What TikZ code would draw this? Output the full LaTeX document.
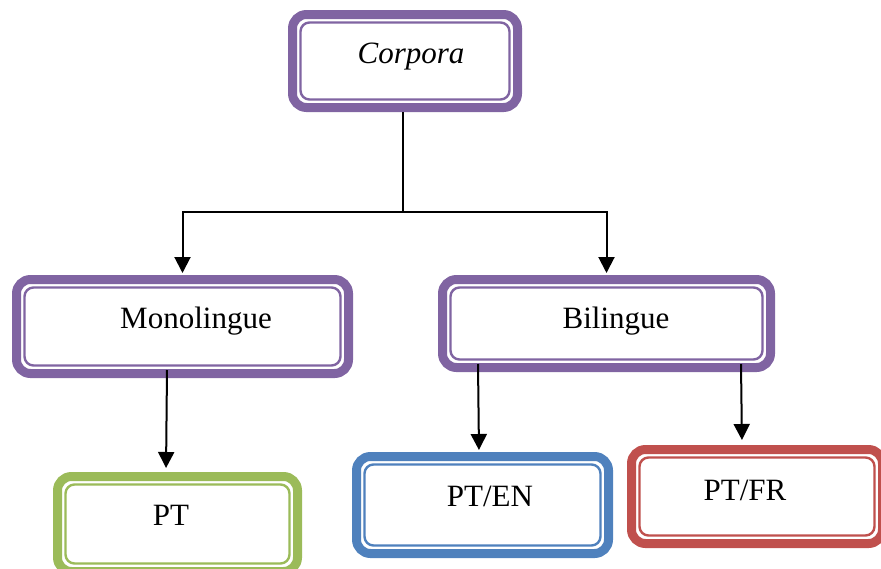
\documentclass[tikz,border=0pt]{standalone}
\usepackage{fontspec}
\setmainfont{Liberation Serif}
\usetikzlibrary{arrows.meta}
\definecolor{cpurple}{HTML}{8064A2}
\definecolor{cgreen}{HTML}{9BBB59}
\definecolor{cblue}{HTML}{4F81BD}
\definecolor{cred}{HTML}{C0504D}
\tikzset{
  boxo/.style={draw=#1, line width=9pt, rounded corners=14pt, inner sep=0pt, fill=white},
  boxi/.style={draw=#1, line width=2.4pt, rounded corners=9pt},
  lbl/.style={anchor=base, inner sep=0pt, font=\fontsize{31}{36}\selectfont},
  conn/.style={draw=black, line width=2pt},
  arr/.style={conn, -{Triangle[length=16pt,width=16pt]}},
}
\newcommand{\innerframe}[2]{%
  \draw[boxi=#2] ([shift={(12.5pt,12.5pt)}]#1.south west) rectangle ([shift={(-12.5pt,-12.5pt)}]#1.north east);}
\begin{document}
\begin{tikzpicture}[x=1pt,y=-1pt]
\useasboundingbox (0,0) rectangle (881,568);
% boxes
\node[boxo=cpurple, minimum width=225pt, minimum height=93pt] (corp) at (405,61) {};
\innerframe{corp}{cpurple}
\node[boxo=cpurple, minimum width=332pt, minimum height=94pt] (mono) at (182.5,326.5) {};
\innerframe{mono}{cpurple}
\node[boxo=cpurple, minimum width=328pt, minimum height=88pt] (bil) at (606.5,323.5) {};
\innerframe{bil}{cpurple}
\node[boxo=cgreen, minimum width=240pt, minimum height=95pt] (pt) at (177.5,524) {};
\innerframe{pt}{cgreen}
\node[boxo=cblue, minimum width=252pt, minimum height=97pt] (pten) at (482.5,505) {};
\innerframe{pten}{cblue}
\node[boxo=cred, minimum width=251pt, minimum height=94pt] (ptfr) at (757,496.5) {};
\innerframe{ptfr}{cred}
% labels
\node[lbl] (tcorp) at (411,63) {\itshape Corpora};
\node[lbl] (tmono) at (196,328) {Monolingue};
\node[lbl] (tbil) at (616,328) {Bilingue};
\node[lbl] (tpt) at (171,525) {PT};
\node[lbl] (tpten) at (490,506) {PT/EN};
\node[lbl] (tptfr) at (745,500) {PT/FR};
% connectors
\coordinate (jn) at (403,212);
\draw[conn] ([xshift=-2pt]corp.south) -- (jn);
\draw[arr, shorten >=2pt] (jn) -| (mono.north);
\draw[arr, shorten >=2pt] (jn) -| (bil.north);
\draw[arr, shorten >=4pt] ([xshift=-15.5pt,yshift=8pt]mono.south) -- ([xshift=-11.5pt]pt.north);
\draw[arr, shorten >=2pt] ([xshift=-128.5pt,yshift=8pt]bil.south) -- ([xshift=-3.5pt]pten.north);
\draw[arr, shorten >=5pt] ([xshift=134.5pt,yshift=8pt]bil.south) -- ([xshift=-15pt]ptfr.north);
\end{tikzpicture}
\end{document}
